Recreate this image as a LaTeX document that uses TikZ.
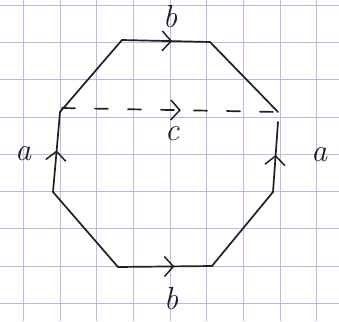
\documentclass[tikz,border=0pt]{standalone}
\usetikzlibrary{arrows.meta,decorations.markings}
\definecolor{ink}{RGB}{38,30,30}
\definecolor{gridblue}{RGB}{180,188,232}
\begin{document}
\begin{tikzpicture}[x=1pt,y=-1pt,
  pen/.style={line width=1.7pt, draw=ink, line cap=round, line join=round},
  gridline/.style={draw=gridblue, line width=0.8pt},
  lbl/.style={font=\fontsize{32}{32}\selectfont\itshape, text=ink, inner sep=0pt},
  midarrow/.style={postaction={decorate}, decoration={markings, mark=at position #1 with {\arrow[ink]{Straight Barb[length=9pt,width=20pt,line width=1.5pt]}}}},
]
\useasboundingbox (0,0) rectangle (339,321);
\fill[white] (0,0) rectangle (339,321);
% grid
\foreach \k in {0,...,8} {
  \draw[gridline] ({23.3+36.67*\k},0) -- ({23.3+36.67*\k},321);
  \draw[gridline] (0,{5+37.3*\k}) -- (339,{5+37.3*\k});
}
% vertices
\coordinate (tl) at (122,40);
\coordinate (tr) at (210,42);
\coordinate (rt) at (278,112);
\coordinate (rb) at (273,192);
\coordinate (br) at (212,266);
\coordinate (bl) at (118,267);
\coordinate (lb) at (53,192);
\coordinate (lt) at (60,112);
\coordinate (ls) at (62,108);
\coordinate (rs) at (278,122);
% edges
\draw[pen, midarrow=0.57] (tl) -- (tr);
\draw[pen] (tr) -- (rt);
\draw[pen, midarrow=0.53] (rb) -- (rs);
\draw[pen] (rb) -- (br);
\draw[pen, midarrow=0.6] (bl) -- (br);
\draw[pen] (lb) -- (bl);
\draw[pen, midarrow=0.52] (lb) -- (lt);
\draw[pen] (lt) -- (tl);
\draw[pen, dash pattern=on 13pt off 20pt, midarrow=0.55] (ls) -- (rt);
% labels
\node[lbl] (btop) at (170,17) {b};
\node[lbl] (c) at (172,134) {c};
\node[lbl] (aleft) at (23,154) {a};
\node[lbl] (aright) at (319,155) {a};
\node[lbl] (bbot) at (171,299) {b};
\end{tikzpicture}
\end{document}
